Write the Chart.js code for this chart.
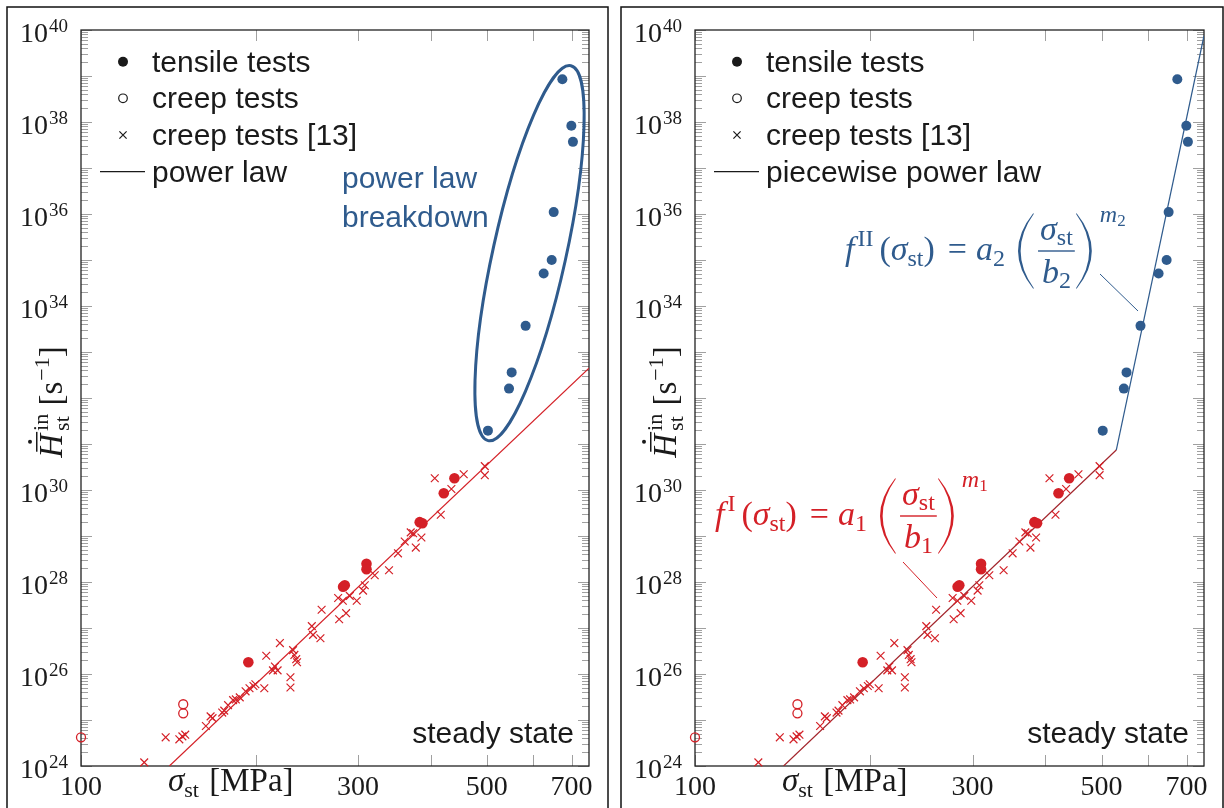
<!DOCTYPE html>
<html>
<head>
<meta charset="utf-8">
<script src="https://cdn.jsdelivr.net/npm/chart.js@4.4.1/dist/chart.umd.min.js"></script>
<style>
html, body { margin: 0; padding: 0; background: #fff; overflow: hidden; }
#wrap { position: relative; width: 1224px; height: 808px; }
canvas { position: absolute; top: 0; }
#c1 { left: 0; }
#c2 { left: 614px; }
</style>
</head>
<body>
<div id="wrap">
  <canvas id="c1" width="612" height="808"></canvas>
  <canvas id="c2" width="610" height="808"></canvas>
</div>
<script>
// axis ranges and ticks
const xRange = [100, 750];
const yRange = [1e24, 1e40];
const xTickValues = [100, 200, 300, 400, 500, 600, 700];
const xTickLabels = ['100', '', '300', '', '500', '', '700'];
const yLabelExponents = [24, 26, 28, 30, 34, 36, 38, 40]; // 10^32 sits under the axis title

// creep tests [13] (crosses)
const creepRefStress = [128.5, 139.9, 147.7, 149.5, 151.2, 164.1, 167.2, 168.5, 175.1, 176.5, 179.2, 182.8, 184.8, 187.7,
  192.1, 195.1, 198.2, 199.7, 206.9, 208.5, 215.8, 218.1, 214.1, 220.1, 229.5, 229.5, 231.9, 233.1, 234.8, 235.6,
  249.8, 251.0, 258.5, 259.7, 278.4, 286.2, 282.5, 298.5, 496.1, 496.1, 456.3, 406.8, 434.5, 416.6, 369.8, 373.3,
  385.8, 361.1, 377.3, 351.6, 339.3, 320.6, 308.2, 306.1, 290.4, 277.3];
const creepRefRate = [1.2e24, 4.2e24, 3.8e24, 4.4e24, 4.8e24, 7.4e24, 1.2e25, 1.1e25, 1.45e25, 1.6e25, 2.1e25, 2.7e25, 2.8e25, 3.1e25,
  4.2e25, 4.9e25, 5.5e25, 6.0e25, 4.9e25, 2.5e26, 1.45e26, 1.2e26, 1.2e26, 4.7e26, 8.5e25, 5.1e25, 3.3e26, 2.6e26, 2.1e26, 1.8e26,
  1.1e27, 7.1e26, 6.0e26, 2.5e27, 1.55e27, 2.1e27, 3.9e27, 3.9e27, 3.3e30, 2.1e30, 2.2e30, 1.8e30, 1.05e30, 2.9e29, 1.2e29, 1.15e29,
  9.3e28, 7.6e28, 5.6e28, 4.2e28, 1.8e28, 1.4e28, 8.5e27, 6.5e27, 5.0e27, 4.5e27];

// creep tests (open circles)
const creepStress = [100, 150, 150];
const creepRate = [4.2e24, 2.2e25, 1.4e25];

// tensile tests, power law regime (red) and breakdown regime (blue)
const tensileStress = [439.8, 421.6, 383.2, 387.3, 310.3, 310.3, 284.7, 282.8, 194.2];
const tensileRate = [1.8e30, 8.5e29, 2.0e29, 1.9e29, 2.5e28, 1.9e28, 8.5e27, 7.9e27, 1.8e26];
const breakdownStress = [674.8, 699.3, 703.7, 652.0, 646.9, 626.6, 583.3, 551.9, 546.1, 502.3];
const breakdownRate = [8.5e38, 8.3e37, 3.7e37, 1.1e36, 1.0e35, 5.1e34, 3.7e33, 3.6e32, 1.6e32, 1.95e31];

// fitted lines (end points)
const powerLawStress = [142, 750];
const powerLawRate = [1e24, 4.47e32];
const pieceIStress = [142, 530];
const pieceIRate = [1e24, 7.4e30];
const pieceIIStress = [530, 750];
const pieceIIRate = [7.4e30, 7.5e39];

const RED = '#d42027', DARKRED = '#a3252c', BLUE = '#2f5b8d', TICK = '#a0a0a0', INK = '#1a1a1a';
const SERIF = '"Liberation Serif", "DejaVu Serif", serif';
const SANS = '"Liberation Sans", Arial, sans-serif';

function pts(xs, ys) { return xs.map((x, i) => ({ x: x, y: ys[i] })); }

function put(ctx, t, font, x, y) {
  ctx.font = font;
  ctx.fillText(t, x, y);
  return x + ctx.measureText(t).width;
}
function tw(ctx, t, font) { ctx.font = font; return ctx.measureText(t).width; }

function bigParen(ctx, x, axis, w, h, left) {
  const t = 2.6, top = axis - h / 2, bot = axis + h / 2;
  ctx.beginPath();
  if (left) {
    ctx.moveTo(x + w, top);
    ctx.quadraticCurveTo(x - w, axis, x + w, bot);
    ctx.lineTo(x + w + 1, bot);
    ctx.quadraticCurveTo(2 * (x + t) - (x + w + 1), axis, x + w + 1, top);
  } else {
    ctx.moveTo(x, top);
    ctx.quadraticCurveTo(x + 2 * w, axis, x, bot);
    ctx.lineTo(x - 1, bot);
    ctx.quadraticCurveTo(2 * (x + w - t) - (x - 1), axis, x - 1, top);
  }
  ctx.closePath();
  ctx.fill();
}

function drawFormula(ctx, x0, axis, color, roman, sub) {
  const fs = 34, ss = 24, base = axis + 9;
  const it = 'italic ' + fs + 'px ' + SERIF, up = fs + 'px ' + SERIF;
  const itS = 'italic ' + ss + 'px ' + SERIF, upS = ss + 'px ' + SERIF, upSS = '17px ' + SERIF;
  ctx.save();
  ctx.fillStyle = color;
  ctx.textAlign = 'left';
  ctx.textBaseline = 'alphabetic';
  let x = x0;
  x = put(ctx, 'f', it, x, base) + 3;
  x = put(ctx, roman, upS, x, base - 14) + 6;
  x = put(ctx, '(', up, x, base);
  x = put(ctx, 'σ', it, x, base);
  x = put(ctx, 'st', upS, x, base + 6);
  x = put(ctx, ')', up, x, base) + 13;
  x = put(ctx, '=', up, x, base) + 9;
  x = put(ctx, 'a', it, x, base);
  x = put(ctx, sub, upS, x, base + 6) + 13;
  bigParen(ctx, x, axis, 15, 75, true);
  x += 20;
  const numW = tw(ctx, 'σ', it) + tw(ctx, 'st', upS);
  const denW = tw(ctx, 'b', it) + tw(ctx, sub, upS);
  const barW = Math.max(numW, denW) + 4;
  let nx = x + (barW - numW) / 2;
  nx = put(ctx, 'σ', it, nx, axis - 11);
  put(ctx, 'st', upS, nx, axis - 6);
  ctx.fillRect(x, axis - 0.7, barW, 1.4);
  let dx = x + (barW - denW) / 2;
  dx = put(ctx, 'b', it, dx, axis + 32);
  put(ctx, sub, upS, dx, axis + 37);
  x += barW + 2;
  bigParen(ctx, x, axis, 15, 75, false);
  x += 23;
  x = put(ctx, 'm', itS, x, axis - 29);
  put(ctx, sub, upSS, x, axis - 25);
  ctx.restore();
}

function drawAxes(chart) {
  const ctx = chart.ctx, a = chart.chartArea, xs = chart.scales.x, ys = chart.scales.y;
  ctx.save();
  ctx.strokeStyle = TICK;
  ctx.lineWidth = 1;
  ctx.beginPath();
  for (let e = 24; e <= 40; e++) {
    for (let k = 1; k <= 9; k++) {
      const v = k * Math.pow(10, e);
      if (v > yRange[1] * 1.0001) break;
      const py = Math.round(ys.getPixelForValue(v)) + 0.5;
      const len = k === 1 ? 11 : 7;
      ctx.moveTo(a.left, py); ctx.lineTo(a.left + len, py);
      ctx.moveTo(a.right, py); ctx.lineTo(a.right - len, py);
    }
  }
  xTickValues.forEach(v => {
    const px = Math.round(xs.getPixelForValue(v)) + 0.5;
    ctx.moveTo(px, a.bottom); ctx.lineTo(px, a.bottom - 11);
    ctx.moveTo(px, a.top); ctx.lineTo(px, a.top + 11);
  });
  ctx.stroke();
  ctx.strokeStyle = '#222';
  ctx.lineWidth = 1.3;
  ctx.strokeRect(a.left, a.top, a.right - a.left, a.bottom - a.top);
  // outer frame of the panel
  ctx.strokeStyle = '#111';
  ctx.lineWidth = 1.5;
  ctx.strokeRect(a.left - 74, 7, a.right - a.left + 93, 820);
  ctx.restore();
}

function drawTexts(chart, o) {
  const ctx = chart.ctx, a = chart.chartArea, xs = chart.scales.x, ys = chart.scales.y;
  ctx.save();
  ctx.fillStyle = INK;
  ctx.textBaseline = 'alphabetic';

  // y tick labels 10^n
  yLabelExponents.forEach(e => {
    const py = ys.getPixelForValue(Math.pow(10, e));
    ctx.textAlign = 'right';
    ctx.font = '19px ' + SERIF;
    const sw = ctx.measureText(String(e)).width;
    ctx.fillText(String(e), a.left - 13, py + 2);
    ctx.font = '28px ' + SERIF;
    ctx.fillText('10', a.left - 14 - sw, py + 12);
  });
  // x tick labels
  ctx.textAlign = 'center';
  ctx.font = '28px ' + SERIF;
  xTickValues.forEach((v, i) => {
    if (xTickLabels[i]) ctx.fillText(xTickLabels[i], xs.getPixelForValue(v), a.bottom + 29);
  });
  // x title
  ctx.textAlign = 'left';
  let x = a.left + 87;
  x = put(ctx, 'σ', 'italic 33px ' + SERIF, x, a.bottom + 25);
  x = put(ctx, 'st', '22px ' + SERIF, x, a.bottom + 31);
  put(ctx, ' [MPa]', '33px ' + SERIF, x + 2, a.bottom + 25);

  // y title, rotated
  ctx.save();
  ctx.translate(a.left - 19, a.top + 372);
  ctx.rotate(-Math.PI / 2);
  const fH = 'italic 33px ' + SERIF, fS = '22px ' + SERIF, fN = '33px ' + SERIF;
  const total = tw(ctx, 'H', fH) + 3 + Math.max(tw(ctx, 'in', fS), tw(ctx, 'st', fS)) + tw(ctx, ' [s', fN) + 1 + tw(ctx, '−1', fS) + tw(ctx, ']', fN);
  let lx = -total / 2;
  const hw = tw(ctx, 'H', fH);
  put(ctx, 'H', fH, lx, 0);
  ctx.fillRect(lx + 6, -26, hw - 4, 1.5);
  ctx.beginPath();
  ctx.arc(lx + hw / 2 + 4, -32, 2, 0, Math.PI * 2);
  ctx.fill();
  lx += hw + 3;
  const ia = put(ctx, 'in', fS, lx, -14);
  const sa = put(ctx, 'st', fS, lx, 7);
  lx = Math.max(ia, sa);
  lx = put(ctx, ' [s', fN, lx, 0) + 1;
  lx = put(ctx, '−1', fS, lx, -13);
  put(ctx, ']', fN, lx, 0);
  ctx.restore();

  // legend
  const mx = a.left + 42, tx = a.left + 71, rows = [a.top + 31.7, a.top + 68.3, a.top + 105, a.top + 141.7];
  ctx.fillStyle = INK; ctx.strokeStyle = INK;
  ctx.beginPath(); ctx.arc(mx, rows[0], 5, 0, Math.PI * 2); ctx.fill();
  ctx.lineWidth = 1.2;
  ctx.beginPath(); ctx.arc(mx, rows[1], 4.3, 0, Math.PI * 2); ctx.stroke();
  ctx.beginPath();
  ctx.moveTo(mx - 3.6, rows[2] - 3.6); ctx.lineTo(mx + 3.6, rows[2] + 3.6);
  ctx.moveTo(mx + 3.6, rows[2] - 3.6); ctx.lineTo(mx - 3.6, rows[2] + 3.6);
  ctx.stroke();
  ctx.beginPath(); ctx.moveTo(a.left + 19, rows[3]); ctx.lineTo(a.left + 64, rows[3]); ctx.stroke();
  ctx.font = '30px ' + SANS;
  ctx.textAlign = 'left';
  ['tensile tests', 'creep tests', 'creep tests [13]', o.lineLabel].forEach((t, i) => ctx.fillText(t, tx, rows[i] + 10));

  // steady state
  ctx.textAlign = 'right';
  ctx.fillText('steady state', a.right - 15, a.bottom - 23);

  if (o.ellipse) {
    const p1 = [xs.getPixelForValue(o.ellipse.tipA[0]), ys.getPixelForValue(o.ellipse.tipA[1])];
    const p2 = [xs.getPixelForValue(o.ellipse.tipB[0]), ys.getPixelForValue(o.ellipse.tipB[1])];
    const cx = (p1[0] + p2[0]) / 2, cy = (p1[1] + p2[1]) / 2;
    const semi = Math.hypot(p1[0] - p2[0], p1[1] - p2[1]) / 2 - 1.5;
    ctx.strokeStyle = BLUE;
    ctx.lineWidth = 3;
    ctx.beginPath();
    ctx.ellipse(cx, cy, semi, o.ellipse.halfWidth, Math.atan2(p1[1] - p2[1], p1[0] - p2[0]), 0, Math.PI * 2);
    ctx.stroke();
    ctx.fillStyle = BLUE;
    ctx.textAlign = 'left';
    ctx.font = '30px ' + SANS;
    ctx.fillText('power law', a.left + 261, a.top + 158);
    ctx.fillText('breakdown', a.left + 261, a.top + 197);
  }
  if (o.formulas) {
    drawFormula(ctx, a.left + 20, a.top + 486, RED, 'I', '1');
    drawFormula(ctx, a.left + 150, a.top + 221, BLUE, 'II', '2');
    ctx.lineWidth = 1;
    ctx.strokeStyle = RED;
    ctx.beginPath(); ctx.moveTo(a.left + 208, a.top + 532); ctx.lineTo(a.left + 242, a.top + 568); ctx.stroke();
    ctx.strokeStyle = BLUE;
    ctx.beginPath(); ctx.moveTo(a.left + 405, a.top + 244); ctx.lineTo(a.left + 443, a.top + 281); ctx.stroke();
  }
  ctx.restore();
}

const panelPlugin = {
  id: 'panel',
  beforeDatasetsDraw(chart) { drawAxes(chart); },
  afterDatasetsDraw(chart, args, o) { drawTexts(chart, o); }
};

function markerSets() {
  return [
    { data: pts(tensileStress, tensileRate), showLine: false, pointStyle: 'circle', pointRadius: 5.3,
      pointBackgroundColor: RED, pointBorderWidth: 0, clip: 10, order: 1 },
    { data: pts(breakdownStress, breakdownRate), showLine: false, pointStyle: 'circle', pointRadius: 5,
      pointBackgroundColor: BLUE, pointBorderWidth: 0, clip: 10, order: 1 },
    { data: pts(creepStress, creepRate), showLine: false, pointStyle: 'circle', pointRadius: 4.5,
      pointBackgroundColor: 'rgba(0,0,0,0)', pointBorderColor: RED, pointBorderWidth: 1.3, clip: 10, order: 2 },
    { data: pts(creepRefStress, creepRefRate), showLine: false, pointStyle: 'crossRot', pointRadius: 5.5,
      pointBorderColor: RED, pointBorderWidth: 1.2, clip: 10, order: 3 }
  ];
}

function lineSet(xs, ys, color) {
  return { data: pts(xs, ys), showLine: true, borderColor: color, borderWidth: 1.2, pointRadius: 0, clip: 0, order: 5 };
}

function makeChart(id, datasets, padRight, panelOpts) {
  return new Chart(document.getElementById(id), {
    type: 'scatter',
    data: { datasets: datasets },
    options: {
      responsive: false,
      animation: false,
      events: [],
      layout: { padding: { left: 81, right: padRight, top: 30, bottom: 42 } },
      scales: {
        x: { type: 'logarithmic', min: xRange[0], max: xRange[1], ticks: { display: false },
             grid: { display: false }, border: { display: false }, afterFit: s => { s.height = 0; } },
        y: { type: 'logarithmic', min: yRange[0], max: yRange[1], ticks: { display: false },
             grid: { display: false }, border: { display: false }, afterFit: s => { s.width = 0; } }
      },
      plugins: { legend: { display: false }, tooltip: { enabled: false }, panel: panelOpts }
    },
    plugins: [panelPlugin]
  });
}

makeChart('c1', markerSets().concat([lineSet(powerLawStress, powerLawRate, RED)]), 23, {
  lineLabel: 'power law',
  ellipse: { tipA: [699, 1.8e39], tipB: [502, 1.1e31], halfWidth: 36.5 }
});

makeChart('c2', markerSets().concat([
  lineSet(pieceIStress, pieceIRate, DARKRED),
  lineSet(pieceIIStress, pieceIIRate, BLUE)
]), 20, { lineLabel: 'piecewise power law', formulas: true });
</script>
</body>
</html>
